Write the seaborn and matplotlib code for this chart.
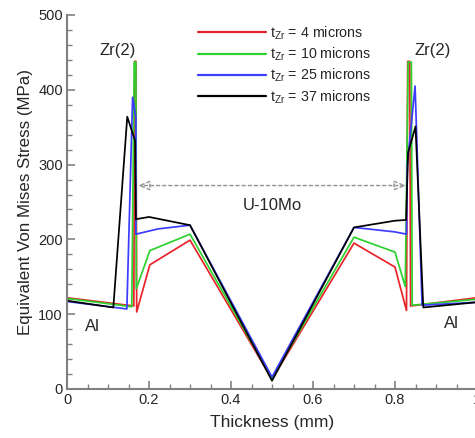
import numpy as np
import pandas as pd
import matplotlib
matplotlib.use("Agg")
import matplotlib.pyplot as plt
import seaborn as sns
from matplotlib.ticker import MultipleLocator, FuncFormatter

# ---- data ----
labels = [r"$\mathregular{t_{Zr}}$ = 4 microns", r"$\mathregular{t_{Zr}}$ = 10 microns",
          r"$\mathregular{t_{Zr}}$ = 25 microns", r"$\mathregular{t_{Zr}}$ = 37 microns"]
colors = ["#e8232a", "#2ed12e", "#3c3cff", "#000000"]

x_red = [0, 0.163, 0.165, 0.168, 0.170, 0.202, 0.3, 0.5, 0.7, 0.8, 0.828, 0.831, 0.836, 0.838, 1.0]
y_red = [122, 111, 438, 438, 103, 166, 199, 13, 195, 163, 105, 438, 438, 111, 122]

x_green = [0, 0.158, 0.164, 0.168, 0.169, 0.202, 0.3, 0.5, 0.7, 0.8, 0.825, 0.832, 0.840, 0.842, 1.0]
y_green = [121, 110, 437, 437, 134, 185, 207, 14, 203, 183, 137, 437, 437, 112, 120]

x_blue = [0, 0.146, 0.160, 0.168, 0.168, 0.222, 0.3, 0.5, 0.7, 0.8, 0.828, 0.830, 0.849, 0.866, 1.0]
y_blue = [117, 107, 390, 363, 207, 214, 219, 16, 216, 210, 207, 300, 405, 112, 116]

x_black = [0, 0.113, 0.147, 0.166, 0.168, 0.2, 0.3, 0.5, 0.7, 0.8, 0.827, 0.832, 0.850, 0.869, 1.0]
y_black = [118, 109, 364, 332, 227, 230, 219, 11, 216, 225, 226, 316, 351, 109, 116]

xs = [x_red, x_green, x_blue, x_black]
ys = [y_red, y_green, y_blue, y_black]

frames = []
for lab, xv, yv in zip(labels, xs, ys):
    frames.append(pd.DataFrame({"x": xv, "y": yv, "series": lab, "order": range(len(xv))}))
df = pd.concat(frames, ignore_index=True)

xticks = [0, 0.2, 0.4, 0.6, 0.8, 1.0]
yticks = [0, 100, 200, 300, 400, 500]

# ---- style ----
sns.set_theme(style="white")
plt.rcParams["font.family"] = ["Liberation Sans", "DejaVu Sans"]
plt.rcParams["mathtext.fontset"] = "custom"
plt.rcParams["mathtext.rm"] = "Liberation Sans"

fig = plt.figure(figsize=(4.75, 4.38), dpi=100)
ax = fig.add_axes([67 / 475, 49 / 438, 410 / 475, 374 / 438])

sns.lineplot(data=df, x="x", y="y", hue="series", palette=colors, hue_order=labels,
             sort=False, estimator=None, linewidth=1.25, ax=ax, legend=True)

ax.set_xlim(0, 1.0)
ax.set_ylim(0, 500)
ax.set_xticks(xticks)
ax.set_yticks(yticks)
ax.xaxis.set_minor_locator(MultipleLocator(0.05))
ax.yaxis.set_minor_locator(MultipleLocator(20))
ax.xaxis.set_major_formatter(FuncFormatter(lambda v, p: f"{v:g}"))
ax.tick_params(axis="both", which="major", direction="in", length=6, width=1.2,
               color="#808080", labelsize=10.5, pad=3)
ax.tick_params(axis="both", which="minor", direction="in", length=3.5, width=1.0,
               color="#808080")
ax.tick_params(axis="x", which="both", bottom=True)
ax.tick_params(axis="y", which="both", left=True)

for side in ["top", "right"]:
    ax.spines[side].set_visible(False)
for side in ["left", "bottom"]:
    ax.spines[side].set_color("#808080")
    ax.spines[side].set_linewidth(1.5)

ax.set_xlabel("Thickness (mm)", fontsize=12.5, labelpad=6)
ax.set_ylabel("Equivalent Von Mises Stress (MPa)", fontsize=12.2, labelpad=4)

leg = ax.legend(loc="upper left", bbox_to_anchor=(0.305, 0.99), frameon=False,
                fontsize=10.3, handlelength=4.8, handletextpad=0.25, labelspacing=0.27,
                borderaxespad=0)
for line in leg.get_lines():
    line.set_linewidth(1.6)

# annotations
ax.text(0.123, 452, "Zr(2)", fontsize=12, ha="center", va="center")
ax.text(0.891, 452, "Zr(2)", fontsize=12, ha="center", va="center")
ax.text(0.063, 84, "Al", fontsize=12, ha="center", va="center")
ax.text(0.937, 87, "Al", fontsize=12, ha="center", va="center")
ax.text(0.5, 245, "U-10Mo", fontsize=12, ha="center", va="center")
ax.annotate("", xy=(0.173, 272), xytext=(0.827, 272),
            arrowprops=dict(arrowstyle="<|-|>,head_length=0.6,head_width=0.25", color="#999999",
                            linestyle=(0, (2, 2)), linewidth=1.1, fill=False,
                            shrinkA=0, shrinkB=0))

fig.savefig("out.png", dpi=100)
